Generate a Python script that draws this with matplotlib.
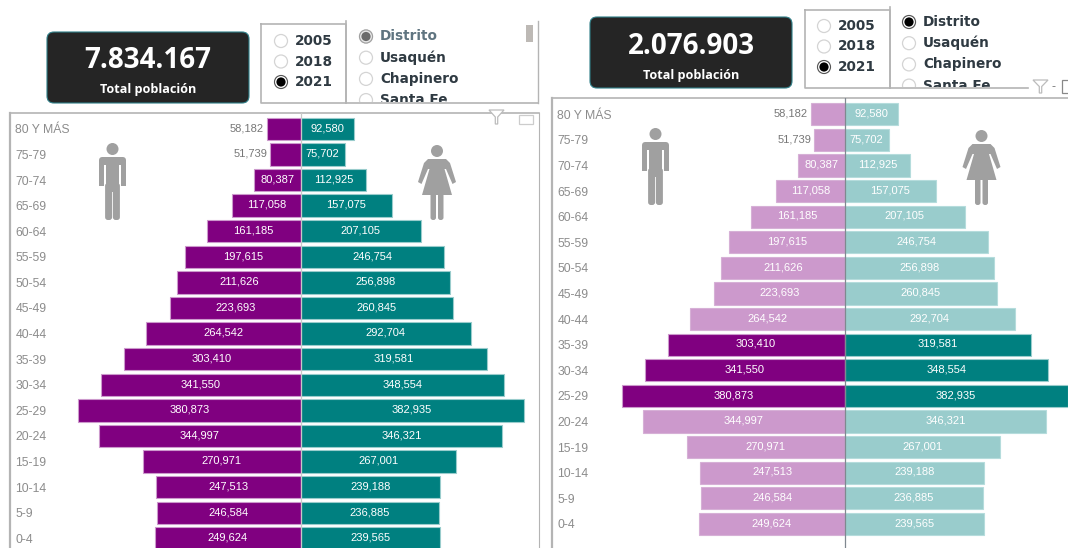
import matplotlib
matplotlib.use("Agg")
import matplotlib.pyplot as plt
from matplotlib.patches import FancyBboxPatch, Rectangle, Circle, Polygon

ages = ["80 Y MÁS", "75-79", "70-74", "65-69", "60-64", "55-59", "50-54", "45-49", "40-44",
        "35-39", "30-34", "25-29", "20-24", "15-19", "10-14", "5-9", "0-4"]
hombres = [58182, 51739, 80387, 117058, 161185, 197615, 211626, 223693, 264542,
           303410, 341550, 380873, 344997, 270971, 247513, 246584, 249624]
mujeres = [92580, 75702, 112925, 157075, 207105, 246754, 256898, 260845, 292704,
           319581, 348554, 382935, 346321, 267001, 239188, 236885, 239565]
resaltados_der = ["35-39", "30-34", "25-29"]
anios = ["2005", "2018", "2021"]
lugares = ["Distrito", "Usaquén", "Chapinero", "Santa Fe"]
total_izq = "7.834.167"
total_der = "2.076.903"
total_label = "Total población"

PURPLE, TEAL = "#800080", "#008080"
L_PURPLE, L_TEAL = "#CC99CC", "#99CCCC"
W, H = 1068, 548
SCALE = 0.000583
STEP = 25.6
FRAME = "#b4b4b4"
ICON = "#a0a0a0"

fig = plt.figure(figsize=(W / 100, H / 100), dpi=100, facecolor="white")


def px_axes(x0, y0, x1, y1, **kw):
    return fig.add_axes([x0 / W, 1 - y1 / H, (x1 - x0) / W, (y1 - y0) / H], **kw)


def pyramid(x0, y0, x1, y1, cx, y_first, highlight=None, right_spine=True):
    ax = px_axes(x0, y0, x1, y1)
    ax.set_xlim((x0 - cx) / SCALE, (x1 - cx) / SCALE)
    ax.set_ylim((y1 - y_first) / STEP, (y0 - y_first) / STEP)
    idx = list(range(len(ages)))
    on = [highlight is None or a in highlight for a in ages]
    ax.barh(idx, [-v for v in hombres], height=0.87,
            color=[PURPLE if o else L_PURPLE for o in on],
            edgecolor=[L_PURPLE if o else "#d6b0d6" for o in on], linewidth=0.8, zorder=2)
    ax.barh(idx, mujeres, height=0.87,
            color=[TEAL if o else L_TEAL for o in on],
            edgecolor=[L_TEAL if o else "#b5dcdc" for o in on], linewidth=0.8, zorder=2)
    ax.axvline(0, color="#808890" if highlight else "#c8c8c8", lw=0.9, zorder=3)
    for i, (m, f) in enumerate(zip(hombres, mujeres)):
        if m < 70000:
            ax.text(-m - 4500, i - 0.03, f"{m:,}", ha="right", va="center",
                    color="#777777", fontsize=8, family="Liberation Sans")
        else:
            ax.text(-m / 2, i - 0.03, f"{m:,}", ha="center", va="center",
                    color="white", fontsize=8, family="Liberation Sans", zorder=4)
        ax.text(f / 2, i - 0.03, f"{f:,}", ha="center", va="center",
                color="white", fontsize=8, family="Liberation Sans", zorder=4)
    ax.set_yticks(idx, ages)
    ax.tick_params(axis="y", length=0, pad=-3.8, labelcolor="#8c8c8c", labelsize=8.8,
                   labelfontfamily="Liberation Sans")
    for t in ax.get_yticklabels():
        t.set_ha("left")
        t.set_verticalalignment("center_baseline")
    ax.set_xticks([])
    for side, sp in ax.spines.items():
        sp.set_visible(side in ("left", "top") or (side == "right" and right_spine))
        sp.set_color(FRAME)
    ax.spines["left"].set_linewidth(1.6)
    ax.spines["top"].set_linewidth(1.2)
    ax.spines["right"].set_linewidth(0.8)
    return ax


pyramid(10, 113, 539, 548, 300.5, 128.8)
pyramid(552, 98, 1068, 548, 844.5, 114.3, highlight=resaltados_der, right_spine=False)

# Overlay in pixel units for the report furniture
ui = px_axes(0, 0, W, H)
ui.set_xlim(0, W)
ui.set_ylim(H, 0)
ui.axis("off")
ui.patch.set_alpha(0)


def rbox(x, y, w, h, r):
    ui.add_patch(FancyBboxPatch((x, y), w, h, boxstyle=f"round,pad=0,rounding_size={r}", fc=ICON, ec="none"))


def man(x, y):
    ui.add_patch(Circle((x, y + 6), 6, fc=ICON, ec="none"))
    rbox(x - 13.5, y + 14, 27, 35, 3.5)
    ui.add_patch(Rectangle((x - 8.2, y + 22), 1.3, 30, fc="white", ec="none"))
    ui.add_patch(Rectangle((x + 6.9, y + 22), 1.3, 30, fc="white", ec="none"))
    ui.add_patch(Rectangle((x - 14, y + 43), 5.5, 8, fc="white", ec="none"))
    ui.add_patch(Rectangle((x + 8.5, y + 43), 5.5, 8, fc="white", ec="none"))
    rbox(x - 7.4, y + 40, 7, 37, 2.8)
    rbox(x + 0.4, y + 40, 7, 37, 2.8)


def woman(x, y):
    ui.add_patch(Circle((x, y + 6), 6, fc=ICON, ec="none"))
    ui.add_patch(Polygon([(x - 9, y + 14), (x + 9, y + 14), (x + 13, y + 18), (x + 19, y + 37), (x + 15.5, y + 39),
                          (x + 9, y + 24), (x + 7.5, y + 24), (x + 15, y + 50), (x - 15, y + 50), (x - 7.5, y + 24),
                          (x - 9, y + 24), (x - 15.5, y + 39), (x - 19, y + 37), (x - 13, y + 18)], fc=ICON, ec="none"))
    rbox(x - 6.5, y + 48, 5.5, 27, 2.5)
    rbox(x + 1, y + 48, 5.5, 27, 2.5)


man(112.5, 143)
woman(437, 145)
man(655.5, 128)
woman(981.5, 130)


def kpi(x0, y0, x1, y1, value):
    ui.add_patch(FancyBboxPatch((x0, y0), x1 - x0, y1 - y0, boxstyle="round,pad=0,rounding_size=7",
                                fc="#252525", ec="#2f7f88", lw=0.8))
    cx = (x0 + x1) / 2
    ui.text(cx, y0 + 29, value, color="white", ha="center", va="center", fontsize=20,
            family="Open Sans", fontweight="bold")
    ui.text(cx, y0 + 58, total_label, color="white", ha="center", va="center", fontsize=9.1,
            family="Open Sans", fontweight="bold")


def radio(x, y, state=0):
    ui.add_patch(Circle((x, y), 6.5, fc="white", ec="#d4d4d4", lw=0.9))
    if state == 1:
        ui.add_patch(Circle((x, y), 6.5, fc="white", ec="#555555", lw=0.8))
        ui.add_patch(Circle((x, y), 4.6, fc="black", ec="none"))
    elif state == 2:
        ui.add_patch(Circle((x, y), 6.5, fc="#e8e8e8", ec="#a0a0a0", lw=0.8))
        ui.add_patch(Circle((x, y), 4.6, fc="#6a6a6a", ec="none"))


def slicers(bx0, bx1, bx2, by0, by1, vtop, rx, ty, lrx, ly, lstep, d_state, d_color, draw_right=True):
    ui.plot([bx0, bx1, bx1, bx0, bx0], [by0, by0, by1, by1, by0], color=FRAME, lw=1.2)
    ui.plot([bx1, bx1], [vtop, by1], color=FRAME, lw=1.2)
    ui.plot([bx1, bx2], [by1, by1], color=FRAME, lw=1.2)
    if draw_right:
        ui.plot([bx2, bx2], [vtop, by1], color=FRAME, lw=1.0)
    for i, a in enumerate(anios):
        radio(rx, ty + i * 20.5, 1 if a == "2021" else 0)
        ui.text(rx + 14, ty + i * 20.5, a, fontsize=9.8, fontweight="bold", family="DejaVu Sans",
                color="#2f3a42", va="center", ha="left")
    clip = Rectangle((bx1, vtop), bx2 - bx1, by1 - vtop - 1, transform=ui.transData)
    for i, l in enumerate(lugares):
        y = ly + i * lstep
        c = Circle((lrx, y), 6.5, fc="white", ec="#d4d4d4", lw=0.9)
        ui.add_patch(c)
        c.set_clip_path(clip)
        if i == 0:
            radio(lrx, y, d_state)
        t = ui.text(lrx + 14, y, l, fontsize=9.8, fontweight="bold", family="DejaVu Sans",
                    color=d_color if i == 0 else "#2f3a42", va="center", ha="left")
        t.set_clip_path(clip)
        t.set_clip_on(True)


kpi(47, 32, 249, 103, total_izq)
kpi(590, 17, 792, 88, total_der)
slicers(261, 346, 538, 24, 103, 21, 281, 41, 366, 36.5, 21.2, 2, "#5f7480")
slicers(805, 890, 1028, 10, 88, 7, 824, 26, 909, 22, 21.2, 1, "#2f3a42", draw_right=False)
ui.add_patch(Rectangle((526, 25), 7, 17, fc="#bdb9b5", ec="none"))


def funnel(x, y, w, h):
    ui.add_patch(Polygon([(x, y), (x + w, y), (x + w * 0.58, y + h * 0.5), (x + w * 0.58, y + h),
                          (x + w * 0.42, y + h), (x + w * 0.42, y + h * 0.5)], fc="white", ec="#bcbcbc", lw=0.9))


funnel(489, 110, 15, 14)
ui.add_patch(Rectangle((519, 115), 14, 9, fc="white", ec="#cccccc", lw=0.9))
funnel(1033, 80, 15, 13)
ui.text(1052, 87, "-", color="#777777", fontsize=9, va="center", family="Liberation Sans")
ui.add_patch(Rectangle((1062, 80), 10, 13, fc="white", ec="#888888", lw=0.9))

fig.savefig("out.png", dpi=100, facecolor="white")
